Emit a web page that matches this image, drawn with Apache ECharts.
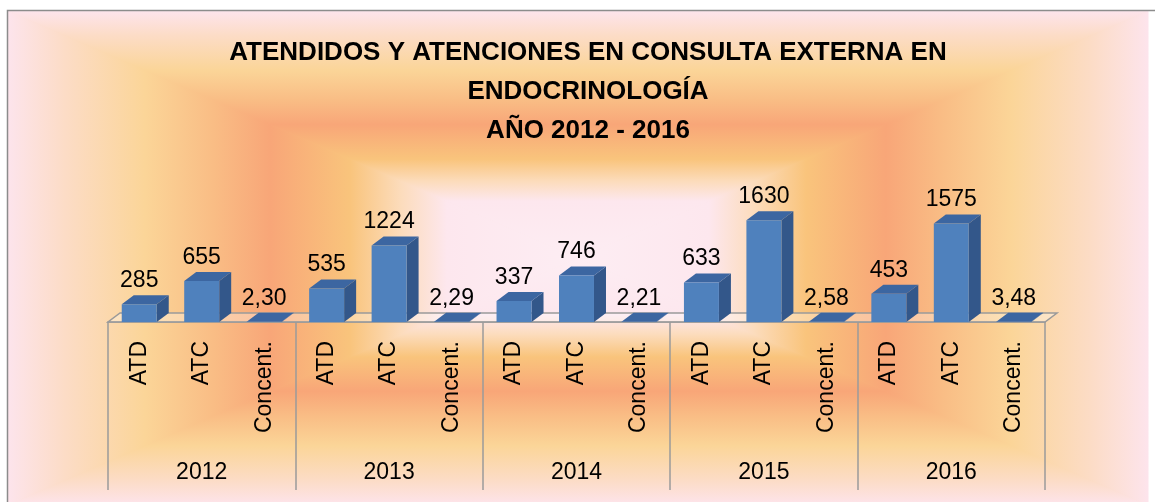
<!DOCTYPE html>
<html>
<head>
<meta charset="utf-8">
<script src="https://cdn.jsdelivr.net/npm/echarts@6/dist/echarts.min.js"></script>
<style>
  html, body { margin: 0; padding: 0; background: #fff; }
  #chart { width: 1155px; height: 502px; }
</style>
</head>
<body>
<div id="chart"></div>
<script>
// datos
var years = ['2012', '2013', '2014', '2015', '2016']
var subCats = ['ATD', 'ATC', 'Concent.']
var atd = [285, 535, 337, 633, 453]
var atc = [655, 1224, 746, 1630, 1575]
var concent = [2.30, 2.29, 2.21, 2.58, 3.48]

// 15 categorias: ATD, ATC, Concent. por cada anio
var cats = []
var values = []
years.forEach(function(y, i) {
  cats.push(subCats[0], subCats[1], subCats[2])
  values.push(atd[i], atc[i], concent[i])
})

var chart = echarts.init(document.getElementById('chart'))

var DX = 12 // profundidad 3D
var DY = 9
var FONT = '23px "Liberation Sans", Arial, sans-serif'

function fmt(v) {
  return v < 10 ? v.toFixed(2).replace('.', ',') : String(v)
}

// fondo: degradado rectangular hacia el centro
var L = 8, T = 11, R = 1148, B = 505
var cx = (L + R) / 2, cy = (T + B) / 2
var stops = [
  { offset: 0, color: '#fde4ec' },
  { offset: 0.1, color: '#fcdcc6' },
  { offset: 0.24, color: '#fbd598' },
  { offset: 0.36, color: '#f9bd85' },
  { offset: 0.46, color: '#f8a678' },
  { offset: 0.6, color: '#f9c47c' },
  { offset: 0.69, color: '#fcdcbc' },
  { offset: 0.77, color: '#fde7ee' },
  { offset: 1, color: '#fdedf3' }
]
function tri(pts, x0, y0, x1, y1) {
  var g = new echarts.graphic.LinearGradient(x0, y0, x1, y1, stops, true)
  return {
    type: 'polygon', z: -10, silent: true,
    shape: { points: pts },
    style: { fill: g, stroke: g, lineWidth: 1 }
  }
}

chart.setOption({
  animation: false,
  title: {
    text: 'ATENDIDOS Y ATENCIONES EN CONSULTA EXTERNA EN\nENDOCRINOLOGÍA\nAÑO 2012 - 2016',
    left: 583,
    top: 28,
    textAlign: 'center',
    textStyle: {
      fontFamily: '"Liberation Sans", Arial, sans-serif',
      fontWeight: 'bold',
      fontSize: 26,
      lineHeight: 39,
      color: '#000'
    }
  },
  graphic: [
    { type: 'rect', z: -11, silent: true, shape: { x: L, y: T, width: R - L, height: B - T }, style: { fill: '#f9c8a0' } },
    tri([[L, T], [R, T], [cx, cy]], 0, T, 0, cy),
    tri([[L, B], [R, B], [cx, cy]], 0, B, 0, cy),
    tri([[L, T], [L, B], [cx, cy]], L, 0, cx, 0),
    tri([[R, T], [R, B], [cx, cy]], R, 0, cx, 0),
    {
      type: 'rect', z: -9, silent: true,
      shape: { x: 7.5, y: 10.5, width: 1160, height: 520 },
      style: { fill: null, stroke: '#8c8c8c', lineWidth: 1.5 }
    }
  ],
  grid: {
    left: 108,
    right: 110,
    top: 172,
    bottom: 180
  },
  xAxis: [{
    type: 'category',
    position: 'bottom',
    data: cats,
    axisLine: { show: false },
    axisTick: { show: false },
    axisLabel: {
      interval: 0,
      rotate: 90,
      margin: 19,
      fontSize: 23,
      fontFamily: '"Liberation Sans", Arial, sans-serif',
      color: '#000'
    }
  }, {
    type: 'category',
    position: 'bottom',
    data: years,
    axisLine: { show: true, lineStyle: { color: '#9a9a9a', width: 1.5 } },
    axisTick: { show: true, length: 168, lineStyle: { color: '#9a9a9a', width: 1.5 } },
    axisLabel: {
      interval: 0,
      margin: 139,
      fontSize: 23,
      fontFamily: '"Liberation Sans", Arial, sans-serif',
      color: '#000'
    }
  }],
  yAxis: {
    type: 'value',
    min: 0,
    max: 2400,
    show: false
  },
  series: [{
    // piso 3D
    type: 'custom',
    silent: true,
    z: 1,
    data: [[0, 0]],
    renderItem: function(params, api) {
      var cs = params.coordSys
      var yb = cs.y + cs.height
      return {
        type: 'polygon',
        shape: { points: [[cs.x, yb], [cs.x + cs.width, yb], [cs.x + cs.width + DX, yb - DY], [cs.x + DX, yb - DY]] },
        style: { fill: 'rgba(255,255,255,0.3)', stroke: '#9a9a9a', lineWidth: 1.5 }
      }
    }
  }, {
    type: 'custom',
    z: 3,
    data: values.map(function(v, i) { return [i, v] }),
    renderItem: function(params, api) {
      var top = api.coord([api.value(0), api.value(1)])
      var base = api.coord([api.value(0), 0])
      var bw = api.size([1, 0])[0] * 0.56
      var x0 = top[0] - bw / 2
      var x1 = top[0] + bw / 2
      var yT = top[1]
      var yB = base[1]
      return {
        type: 'group',
        children: [{
          type: 'polygon',
          shape: { points: [[x1, yB], [x1 + DX, yB - DY], [x1 + DX, yT - DY], [x1, yT]] },
          style: { fill: '#33578a' }
        }, {
          type: 'polygon',
          shape: { points: [[x0, yT], [x1, yT], [x1 + DX, yT - DY], [x0 + DX, yT - DY]] },
          style: { fill: '#3c66a1' }
        }, {
          type: 'rect',
          shape: { x: x0, y: yT, width: bw, height: yB - yT },
          style: { fill: '#4f81bd' }
        }, {
          type: 'text',
          style: {
            text: fmt(api.value(1)),
            x: top[0],
            y: yT - DY - 3,
            textAlign: 'center',
            textVerticalAlign: 'bottom',
            font: FONT,
            fill: '#000'
          }
        }]
      }
    }
  }]
})
</script>
</body>
</html>
